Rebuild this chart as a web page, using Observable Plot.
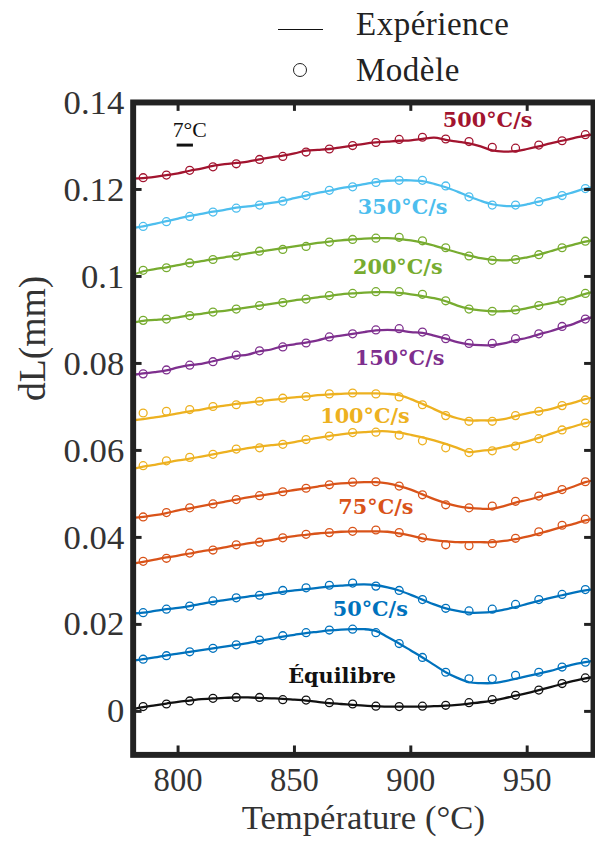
<!DOCTYPE html>
<html><head><meta charset="utf-8">
<script src="https://cdn.jsdelivr.net/npm/d3@7"></script>
<script src="https://cdn.jsdelivr.net/npm/@observablehq/plot@0.6"></script>
<style>
html,body{margin:0;padding:0;background:#fff;overflow:hidden;width:595px;height:849px;}
#wrap{position:relative;width:595px;height:849px;overflow:hidden;}
#chart{position:absolute;left:0;top:0;}
.leg{position:absolute;font-family:"Liberation Serif",serif;font-size:33px;line-height:33px;color:#222;white-space:nowrap;letter-spacing:0.5px;}
</style></head>
<body><div id="wrap">
<div id="chart"></div>
<div class="leg" style="left:278px;top:29px;width:45px;height:0;border-top:1.6px solid #111;"></div>
<div class="leg" style="left:356px;top:8px;">Expérience</div>
<div class="leg" style="left:293px;top:63px;width:12px;height:12px;border:1.4px solid #222;border-radius:50%;"></div>
<div class="leg" style="left:356px;top:54px;">Modèle</div>
</div>
<script>
// Temperatures (°C)
const expT = [780,785,790,795,800,805,810,815,820,825,830,835,840,845,850,855,860,865,870,875,880,885,890,895,900,905,910,915,920,925,930,935,940,945,950,955,960,965,970,975,980];
const modelT = [785,795,805,815,825,835,845,855,865,875,885,895,905,915,925,935,945,955,965,975];

// Experience (lines), dL in mm
const exp500 = [.1225,.1226,.1229,.1233,.1237,.1243,.1248,.1254,.1258,.1261,.1264,.1269,.1274,.1278,.1283,.1289,.1291,.1293,.1297,.1301,.1305,.1308,.1310,.1312,.1313,.1316,.1319,.1314,.1310,.1306,.1299,.1290,.1287,.1288,.1293,.1299,.1306,.1312,.1318,.1324,.1327];
const exp350 = [.1111,.1115,.1121,.1127,.1133,.1139,.1144,.1149,.1153,.1158,.1161,.1165,.1169,.1174,.1180,.1186,.1192,.1197,.1203,.1207,.1212,.1217,.1220,.1221,.1221,.1219,.1213,.1205,.1195,.1184,.1174,.1166,.1162,.1162,.1166,.1172,.1179,.1186,.1194,.1202,.1206];
const exp200a = [.1002,.1012,.1017,.1021,.1026,.1031,.1035,.1040,.1044,.1048,.1053,.1057,.1061,.1065,.1069,.1073,.1077,.1080,.1083,.1085,.1087,.1088,.1088,.1086,.1083,.1078,.1071,.1063,.1055,.1048,.1042,.1038,.1037,.1039,.1044,.1050,.1058,.1066,.1073,.1080,.1085];
const exp200b = [.0893,.0898,.0900,.0902,.0906,.0911,.0914,.0918,.0921,.0925,.0929,.0933,.0937,.0941,.0945,.0948,.0952,.0955,.0959,.0961,.0963,.0964,.0964,.0962,.0959,.0955,.0950,.0943,.0933,.0926,.0922,.0920,.0920,.0922,.0927,.0933,.0938,.0944,.0951,.0960,.0966];
const exp150 = [.0773,.0777,.0780,.0784,.0791,.0796,.0799,.0805,.0811,.0817,.0820,.0828,.0832,.0840,.0844,.0848,.0853,.0860,.0864,.0868,.0872,.0876,.0877,.0876,.0872,.0870,.0864,.0857,.0849,.0844,.0842,.0842,.0846,.0853,.0859,.0867,.0874,.0883,.0891,.0902,.0908];
const exp100a = [.0669,.0672,.0676,.0680,.0685,.0690,.0694,.0699,.0703,.0707,.0710,.0713,.0716,.0719,.0722,.0724,.0727,.0729,.0730,.0731,.0731,.0731,.0730,.0727,.0718,.0707,.0695,.0683,.0674,.0669,.0669,.0669,.0672,.0679,.0685,.0690,.0695,.0703,.0710,.0718,.0723];
const exp100b = [.0557,.0563,.0567,.0572,.0577,.0581,.0586,.0591,.0596,.0601,.0605,.0609,.0612,.0615,.0619,.0624,.0629,.0633,.0637,.0640,.0642,.0644,.0644,.0641,.0636,.0630,.0623,.0615,.0606,.0596,.0599,.0602,.0608,.0614,.0621,.0629,.0638,.0647,.0655,.0663,.0668];
const exp75a = [.0445,.0447,.0451,.0456,.0462,.0467,.0472,.0477,.0482,.0487,.0492,.0496,.0500,.0505,.0509,.0513,.0517,.0521,.0524,.0526,.0527,.0527,.0524,.0518,.0510,.0499,.0488,.0479,.0472,.0468,.0466,.0466,.0472,.0480,.0486,.0493,.0500,.0508,.0517,.0527,.0532];
const exp75b = [.0339,.0344,.0349,.0354,.0358,.0363,.0368,.0372,.0377,.0382,.0386,.0390,.0394,.0399,.0403,.0406,.0409,.0411,.0413,.0414,.0414,.0414,.0413,.0409,.0404,.0398,.0394,.0391,.0389,.0389,.0389,.0389,.0392,.0396,.0402,.0409,.0416,.0424,.0431,.0439,.0444];
const exp50a = [.0225,.0227,.0231,.0235,.0238,.0242,.0247,.0252,.0256,.0260,.0264,.0267,.0271,.0275,.0278,.0281,.0284,.0287,.0289,.0291,.0292,.0290,.0285,.0278,.0268,.0257,.0246,.0237,.0231,.0227,.0227,.0229,.0234,.0240,.0247,.0254,.0261,.0267,.0273,.0278,.0282];
const exp50b = [.0116,.0120,.0124,.0129,.0133,.0137,.0141,.0145,.0149,.0153,.0157,.0162,.0167,.0172,.0176,.0180,.0183,.0186,.0188,.0189,.0189,.0185,.0171,.0156,.0140,.0124,.0107,.0090,.0077,.0067,.0065,.0065,.0069,.0075,.0081,.0087,.0093,.0101,.0108,.0113,.0118];
const expEq = [.0005,.0010,.0014,.0018,.0022,.0025,.0028,.0030,.0031,.0032,.0032,.0031,.0030,.0029,.0027,.0025,.0022,.0019,.0017,.0015,.0013,.0012,.0011,.0011,.0011,.0011,.0012,.0013,.0015,.0018,.0021,.0025,.0030,.0036,.0042,.0049,.0056,.0063,.0070,.0076,.0080];

// Modele (circles), dL in mm
const mod500 = [.1227,.1233,.1244,.1252,.1259,.1269,.1276,.1286,.1293,.1301,.1308,.1315,.1320,.1316,.1310,.1297,.1295,.1302,.1312,.1326];
const mod350 = [.1115,.1126,.1138,.1148,.1157,.1164,.1173,.1186,.1198,.1206,.1216,.1221,.1221,.1208,.1183,.1164,.1164,.1172,.1186,.1202];
const mod200a = [.1014,.1020,.1031,.1039,.1047,.1058,.1062,.1069,.1079,.1085,.1088,.1090,.1082,.1066,.1047,.1037,.1039,.1050,.1066,.1081];
const mod200b = [.0899,.0902,.0910,.0918,.0925,.0933,.0940,.0948,.0956,.0961,.0965,.0965,.0959,.0944,.0925,.0920,.0923,.0933,.0944,.0961];
const mod150 = [.0776,.0785,.0796,.0804,.0819,.0829,.0838,.0847,.0861,.0868,.0877,.0880,.0872,.0857,.0846,.0846,.0857,.0868,.0885,.0902];
const mod100a = [.0686,.0690,.0694,.0701,.0705,.0713,.0720,.0724,.0730,.0732,.0730,.0723,.0705,.0680,.0667,.0667,.0680,.0690,.0703,.0716];
const mod100b = [.0565,.0576,.0584,.0591,.0603,.0606,.0614,.0625,.0633,.0641,.0642,.0635,.0622,.0606,.0595,.0599,.0610,.0627,.0647,.0663];
const mod75a = [.0447,.0457,.0468,.0477,.0487,.0496,.0505,.0513,.0521,.0527,.0528,.0518,.0498,.0475,.0468,.0472,.0483,.0495,.0510,.0528];
const mod75b = [.0345,.0352,.0364,.0371,.0383,.0389,.0399,.0407,.0411,.0414,.0417,.0411,.0399,.0383,.0381,.0386,.0398,.0413,.0428,.0442];
const mod50a = [.0227,.0235,.0242,.0254,.0261,.0267,.0278,.0284,.0290,.0295,.0288,.0278,.0257,.0237,.0231,.0235,.0246,.0257,.0269,.0280];
const mod50b = [.0120,.0128,.0137,.0145,.0153,.0164,.0174,.0181,.0187,.0189,.0181,.0156,.0124,.0090,.0075,.0075,.0083,.0090,.0102,.0113];
const modEq = [.0011,.0017,.0024,.0030,.0032,.0032,.0027,.0026,.0020,.0017,.0012,.0011,.0012,.0014,.0020,.0027,.0037,.0049,.0064,.0077];

// Axis ticks
const xTicks = [800, 850, 900, 950];
const yTicks = [0, 0.02, 0.04, 0.06, 0.08, 0.1, 0.12, 0.14];
const yTickLabels = ["0", "0.02", "0.04", "0.06", "0.08", "0.1", "0.12", "0.14"];

// Curve labels (annotation anchors in data units)
const labelNames = ["500°C/s", "350°C/s", "200°C/s", "150°C/s", "100°C/s", "75°C/s", "50°C/s", "Équilibre"];
const labelT = [933, 896.5, 894.4, 895.2, 880.3, 885, 882.6, 870.5];
const labelV = [0.1358, 0.1159, 0.1022, 0.0811, 0.0678, 0.0468, 0.0234, 0.0080];
const scaleBarT = [799.6, 806.6];
const scaleBarV = 0.1302;
const scaleText = "7°C";
const scaleTextT = 805;
const scaleTextV = 0.1337;

const C = {r500:"#A2142F", r350:"#4DBEEE", r200:"#77AC30", r150:"#7E2F8E", r100:"#EDB120", r75:"#D95319", r50:"#0072BD", eq:"#111111"};
const series = [
  {exp: exp500, mod: mod500, color: C.r500},
  {exp: exp350, mod: mod350, color: C.r350},
  {exp: exp200a, mod: mod200a, color: C.r200},
  {exp: exp200b, mod: mod200b, color: C.r200},
  {exp: exp150, mod: mod150, color: C.r150},
  {exp: exp100a, mod: mod100a, color: C.r100},
  {exp: exp100b, mod: mod100b, color: C.r100},
  {exp: exp75a, mod: mod75a, color: C.r75},
  {exp: exp75b, mod: mod75b, color: C.r75},
  {exp: exp50a, mod: mod50a, color: C.r50},
  {exp: exp50b, mod: mod50b, color: C.r50},
  {exp: expEq, mod: modEq, color: C.eq}
];
const labelColors = [C.r500, C.r350, C.r200, C.r150, C.r100, C.r75, C.r50, C.eq];

const W = 601, H = 849, mL = 134, mR = 2, mT = 103, mB = 87;
const plotW = W - mL - mR, plotH = H - mT - mB;
const axisColor = "#222";

const marks = [];
for (const s of series) {
  marks.push(Plot.line(expT.map((t, i) => ({T: t, v: s.exp[i]})), {x: "T", y: "v", stroke: s.color, strokeWidth: 2.3, curve: "catmull-rom", clip: true}));
  marks.push(Plot.dot(modelT.map((t, i) => ({T: t, v: s.mod[i]})), {x: "T", y: "v", r: 4, stroke: s.color, strokeWidth: 1.3, fill: "none", clip: true}));
}
labelNames.forEach((n, i) => {
  marks.push(Plot.text([{T: labelT[i], v: labelV[i], n}], {x: "T", y: "v", text: "n", fill: labelColors[i], fontSize: 21, fontWeight: "bold", fontFamily: "DejaVu Serif", textAnchor: "middle", lineAnchor: "middle"}));
});
marks.push(Plot.ruleY([scaleBarV], {x1: scaleBarT[0], x2: scaleBarT[1], stroke: "#111", strokeWidth: 3}));
marks.push(Plot.text([{T: scaleTextT, v: scaleTextV, n: scaleText}], {x: "T", y: "v", text: "n", fill: "#111", fontSize: 22, fontFamily: "Liberation Serif", lineAnchor: "middle"}));

marks.push(
  Plot.axisX(xTicks, {anchor: "bottom", tickSize: 0, tickPadding: 13, fontSize: 33, fill: "#333", label: null}),
  Plot.axisY(yTicks, {anchor: "left", tickSize: 0, tickPadding: 9, fontSize: 35, fill: "#333", label: null, tickFormat: d => yTickLabels[yTicks.indexOf(d)]}),
  Plot.tickX(xTicks, {x: d => d, insetTop: plotH - 9, stroke: axisColor, strokeWidth: 3}),
  Plot.tickX(xTicks, {x: d => d, insetBottom: plotH - 9, stroke: axisColor, strokeWidth: 3}),
  Plot.tickY(yTicks, {y: d => d, insetRight: plotW - 9, stroke: axisColor, strokeWidth: 3}),
  Plot.tickY(yTicks, {y: d => d, insetLeft: plotW - 9, stroke: axisColor, strokeWidth: 3}),
  Plot.frame({stroke: axisColor, strokeWidth: 6}),
  Plot.text(["Température (°C)"], {frameAnchor: "bottom", dy: 64, fontSize: 35, fill: "#333", lineAnchor: "middle", letterSpacing: "2px"}),
  Plot.text(["dL(mm)"], {frameAnchor: "left", dx: -101, dy: -28, rotate: -90, fontSize: 38, fill: "#333", lineAnchor: "middle"})
);

const chart = Plot.plot({
  width: W, height: H,
  marginLeft: mL, marginRight: mR, marginTop: mT, marginBottom: mB,
  x: {domain: [780.7, 978.5]},
  y: {domain: [-0.01, 0.14]},
  style: {fontFamily: "Liberation Serif", background: "transparent", overflow: "visible"},
  marks
});
document.getElementById("chart").appendChild(chart);
</script>
</body></html>
